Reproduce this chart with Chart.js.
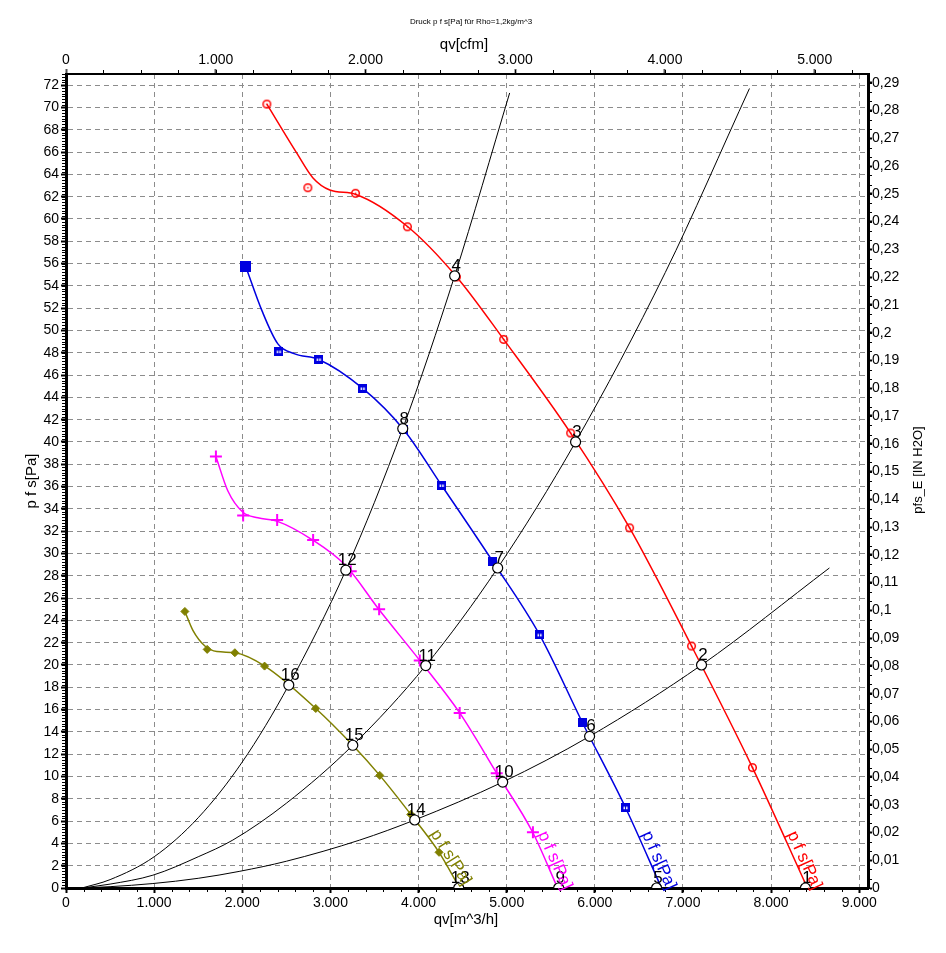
<!DOCTYPE html>
<html>
<head>
<meta charset="utf-8">
<title>Druck p f s[Pa]</title>
<script src="https://cdn.jsdelivr.net/npm/chart.js@4.4.1/dist/chart.umd.min.js"></script>
<style>
  html, body { margin: 0; padding: 0; background: #fff; }
  #wrap { width: 946px; height: 953px; }
</style>
</head>
<body>
<div id="wrap"><canvas id="chart" width="946" height="953"></canvas></div>
<script>
// Kennlinien: qv [m^3/h], p f s [Pa]
const redCurve = [[2279,70.3],[2619,65.9],[2800,63.7],[2993,62.6],[3288,62.2],[3878,59.3],[4433,54.8],[4966,49.2],[5726,40.8],[6395,32.3],[7098,21.7],[7789,10.8],[8413,0]];
const redMarks = [[2279,70.3],[2744,62.8],[3285,62.3],[3874,59.3],[4430,54.8],[4966,49.2],[5726,40.8],[6395,32.3],[7098,21.7],[7789,10.8]];

const blueCurve = [[2041,55.7],[2222,51.8],[2404,48.8],[2596,47.9],[2868,47.4],[3367,44.8],[3832,41.1],[4263,36.1],[4841,29.3],[5374,22.7],[5862,14.8],[6349,7.2],[6757,0]];
const blueMarks = [[2041,55.7],[2415,48.1],[2868,47.4],[3367,44.8],[3832,41.1],[4263,36.1],[4841,29.3],[5374,22.7],[5862,14.8],[6349,7.2]];
const blueSolid = [0, 6, 8];

const pinkCurve = [[1701,38.7],[1837,35.6],[2007,33.7],[2177,33.2],[2392,32.9],[2800,31.2],[3175,28.9],[3549,25.0],[4025,20.3],[4467,15.7],[4887,10.3],[5295,5.0],[5578,0]];
const pinkMarks = [[1701,38.7],[2010,33.4],[2396,33.0],[2804,31.2],[3231,28.4],[3553,25.0],[4014,20.4],[4467,15.7],[4887,10.3],[5298,5.0]];

const oliveCurve = [[1349,24.8],[1440,23.1],[1576,21.7],[1712,21.2],[1916,21.1],[2256,19.9],[2834,16.1],[3254,12.8],[3560,10.1],[3912,6.6],[4233,3.2],[4467,0]];
const oliveMarks = [[1349,24.8],[1602,21.4],[1916,21.1],[2253,19.9],[2834,16.1],[3560,10.1],[3912,6.6],[4233,3.2]];

// Anlagenkennlinien
const sysCurveA = [[181,0],[500,0.75],[1000,2.8],[1500,6.3],[2000,11.3],[2528,18.2],[3175,28.5],[3821,41.2],[4410,54.9],[5034,71.3]];
const sysCurveB = [[181,0],[500,0.35],[986,1.15],[1500,2.8],[1893,4.3],[2500,7.6],[3254,12.8],[4082,19.95],[4898,28.7],[5782,40.0],[6800,55.2],[7755,71.7]];
const sysCurveC = [[181,0],[500,0.12],[986,0.4],[1500,0.87],[1973,1.5],[2500,2.4],[3333,4.3],[3957,6.1],[4955,9.5],[5941,13.6],[7211,20.0],[8662,28.7]];

// Betriebspunkte 1..16
const opQ = [8390,7211,5782,4410,6701,5941,4898,3821,5590,4955,4082,3175,4456,3957,3254,2528];
const opP = [0,20.0,40.0,54.9,0,13.6,28.7,41.2,0,9.5,19.95,28.5,0,6.1,12.8,18.2];

// Achsenteilung
const qTicks = [0,1000,2000,3000,4000,5000,6000,7000,8000,9000];
const cfmTicks = [0,1000,2000,3000,4000,5000];

const curveLabel = 'p f s[Pa]';
const Q_MAX = 9100, P_MAX = 73;
const CFM_PER_M3H = 0.5886, PA_PER_INH2O = 249;

const RED = '#ff0000', BLUE = '#0000e0', PINK = '#ff00ff', OLIVE = '#808000';
const FONT = '"Liberation Sans", Arial, sans-serif';

const xy = arr => arr.map(p => ({x: p[0], y: p[1]}));

function ringDot(color) {
  const c = document.createElement('canvas');
  c.width = c.height = 11;
  const g = c.getContext('2d');
  g.strokeStyle = color; g.lineWidth = 1.5;
  g.beginPath(); g.arc(5.5, 5.5, 3.8, 0, 2 * Math.PI); g.stroke();
  g.fillStyle = color; g.fillRect(4.8, 4.8, 1.5, 1.5);
  return c;
}
function square(color, size, hollow) {
  const c = document.createElement('canvas');
  c.width = c.height = size;
  const g = c.getContext('2d');
  g.fillStyle = color; g.fillRect(0, 0, size, size);
  if (hollow) { g.fillStyle = '#fff'; g.fillRect(size / 2 - 2, size / 2 - 1, 1.5, 2.5); g.fillRect(size / 2 + 0.5, size / 2 - 1, 1.5, 2.5); }
  return c;
}
const redDot = ringDot(RED);
const blueHollow = square(BLUE, 9, true);
const blueFull = square(BLUE, 9, false);
const blueBig = square(BLUE, 11, false);

function curve(data, color, width) {
  return { data: xy(data), showLine: true, borderColor: color, borderWidth: width,
    pointRadius: 0, pointHoverRadius: 0, cubicInterpolationMode: 'monotone', fill: false };
}
function marks(data, extra) {
  return Object.assign({ data: xy(data), showLine: false }, extra);
}

const fanCurves = [
  { data: redCurve, color: RED },
  { data: blueCurve, color: BLUE },
  { data: pinkCurve, color: PINK },
  { data: oliveCurve, color: OLIVE }
];

const datasets = [
  marks(opQ.map((q, i) => [q, opP[i]]), { pointStyle: 'circle', pointRadius: 5, backgroundColor: '#fff', borderColor: '#000', borderWidth: 1.2, clip: 0 }),
  marks(redMarks, { pointStyle: redDot, pointRadius: 5 }),
  marks(blueMarks, { pointStyle: ctx => ctx.dataIndex === 0 ? blueBig : (blueSolid.includes(ctx.dataIndex) ? blueFull : blueHollow), pointRadius: 5 }),
  marks(pinkMarks, { pointStyle: 'cross', pointRadius: 6, borderColor: PINK, borderWidth: 2 }),
  marks(oliveMarks, { pointStyle: 'rectRot', pointRadius: 4, backgroundColor: OLIVE, borderColor: OLIVE, borderWidth: 1 }),
  curve(redCurve, RED, 1.5),
  curve(blueCurve, BLUE, 1.5),
  curve(pinkCurve, PINK, 1.5),
  curve(oliveCurve, OLIVE, 1.5),
  curve(sysCurveA, '#000', 1),
  curve(sysCurveB, '#000', 1),
  curve(sysCurveC, '#000', 1)
];

const thousands = v => v === 0 ? '0' : (v / 1000) + '.000';
const gridColor = ctx => (ctx.tick && ctx.tick.value === 0) ? 'rgba(0,0,0,0)' : '#8c8c8c';

const minorTicks = {
  id: 'minorTicks',
  afterDraw(chart) {
    const ctx = chart.ctx, a = chart.chartArea, s = chart.scales;
    const spec = [[s.x, 200, 'bottom'], [s.x2, 250, 'top'], [s.y, 0.25, 'left'], [s.y2, 0.01 / 3, 'right']];
    ctx.save();
    ctx.strokeStyle = '#000'; ctx.lineWidth = 1;
    spec.forEach(([sc, step, side]) => {
      const n = Math.floor(sc.max / step + 1e-6);
      for (let k = 1; k <= n; k++) {
        const p = Math.round(sc.getPixelForValue(k * step)) + 0.5;
        ctx.beginPath();
        if (side === 'bottom') { ctx.moveTo(p, a.bottom); ctx.lineTo(p, a.bottom + 4); }
        if (side === 'top') { ctx.moveTo(p, a.top); ctx.lineTo(p, a.top - 4); }
        if (side === 'left') { ctx.moveTo(a.left, p); ctx.lineTo(a.left - 4, p); }
        if (side === 'right') { ctx.moveTo(a.right, p); ctx.lineTo(a.right + 4, p); }
        ctx.stroke();
      }
    });
    ctx.restore();
  }
};

const textLayer = {
  id: 'textLayer',
  afterDraw(chart) {
    const ctx = chart.ctx, sx = chart.scales.x, sy = chart.scales.y;
    ctx.save();
    ctx.fillStyle = '#000';

    // Betriebspunkt-Nummern
    ctx.font = '17px ' + FONT;
    ctx.textAlign = 'center'; ctx.textBaseline = 'alphabetic';
    opQ.forEach((q, i) => {
      ctx.fillText(String(i + 1), sx.getPixelForValue(q) + 1.5, sy.getPixelForValue(opP[i]) - 5);
    });

    // Kurvenbeschriftung entlang der Kennlinie
    ctx.textAlign = 'left';
    fanCurves.forEach(fc => {
      const d = fc.data, lblP = 4.7;
      let k = d.length - 2;
      for (let j = 0; j < d.length - 1; j++) if (d[j][1] >= lblP && d[j + 1][1] <= lblP) { k = j; break; }
      const t = (d[k][1] - lblP) / (d[k][1] - d[k + 1][1]);
      const q = d[k][0] + t * (d[k + 1][0] - d[k][0]);
      const x0 = sx.getPixelForValue(q), y0 = sy.getPixelForValue(lblP);
      const last = d[d.length - 1];
      const x1 = sx.getPixelForValue(last[0]), y1 = sy.getPixelForValue(last[1]);
      ctx.save();
      ctx.translate(x0, y0);
      ctx.rotate(Math.atan2(y1 - y0, x1 - x0));
      ctx.fillStyle = fc.color;
      ctx.font = '17px ' + FONT;
      ctx.fillText(curveLabel, 0, -4);
      ctx.restore();
    });

    // Titel und Achsenbeschriftungen
    ctx.textAlign = 'center'; ctx.textBaseline = 'middle';
    ctx.font = '8px ' + FONT;
    ctx.fillText('Druck p f s[Pa] für Rho=1,2kg/m^3', 471, 22);
    ctx.font = '15px ' + FONT;
    ctx.fillText('qv[cfm]', 464, 45);
    ctx.fillText('qv[m^3/h]', 466, 920);
    ctx.save(); ctx.translate(32, 481); ctx.rotate(-Math.PI / 2);
    ctx.fillText('p f s[Pa]', 0, 0); ctx.restore();
    ctx.save(); ctx.translate(918, 470); ctx.rotate(-Math.PI / 2);
    ctx.font = '13px ' + FONT;
    ctx.fillText('pfs_E [IN H2O]', 0, 0); ctx.restore();
    ctx.restore();
  }
};

Chart.defaults.font.family = FONT;
Chart.defaults.font.size = 14;
Chart.defaults.color = '#000';

new Chart(document.getElementById('chart'), {
  type: 'line',
  data: { datasets: datasets },
  options: {
    responsive: false,
    animation: false,
    devicePixelRatio: 1,
    layout: { padding: 0 },
    plugins: { legend: { display: false }, tooltip: { enabled: false } },
    scales: {
      x: {
        type: 'linear', position: 'bottom', min: 0, max: Q_MAX,
        afterBuildTicks: s => { s.ticks = qTicks.map(v => ({ value: v })); },
        ticks: { autoSkip: false, maxRotation: 0, padding: 2, callback: thousands },
        grid: { color: gridColor, lineWidth: 1, tickLength: 5, tickColor: '#000', tickWidth: 2 },
        border: { color: '#000', width: 3, dash: [5, 4] },
        afterFit: s => { s.height = 65; }
      },
      x2: {
        type: 'linear', position: 'top', min: 0, max: Q_MAX * CFM_PER_M3H,
        afterBuildTicks: s => { s.ticks = cfmTicks.map(v => ({ value: v })); },
        ticks: { autoSkip: false, maxRotation: 0, padding: 0, callback: thousands },
        grid: { drawOnChartArea: false, tickLength: 5, tickColor: '#555', tickWidth: 2 },
        border: { color: '#000', width: 2 },
        afterFit: s => { s.height = 74; }
      },
      y: {
        type: 'linear', position: 'left', min: 0, max: P_MAX,
        ticks: { stepSize: 2, includeBounds: false, autoSkip: false, padding: 2 },
        grid: { color: gridColor, lineWidth: 1, tickLength: 5, tickColor: '#000', tickWidth: 2 },
        border: { color: '#000', width: 3, dash: [5, 4] },
        afterFit: s => { s.width = 66; }
      },
      y2: {
        type: 'linear', position: 'right', min: 0, max: P_MAX / PA_PER_INH2O,
        ticks: { stepSize: 0.01, includeBounds: false, autoSkip: false, padding: 0,
          callback: v => v === 0 ? '0' : String(+v.toFixed(2)).replace('.', ',') },
        grid: { drawOnChartArea: false, tickLength: 4, tickColor: '#000', tickWidth: 2 },
        border: { color: '#000', width: 3 },
        afterFit: s => { s.width = 78; }
      }
    }
  },
  plugins: [minorTicks, textLayer]
});
</script>
</body>
</html>
